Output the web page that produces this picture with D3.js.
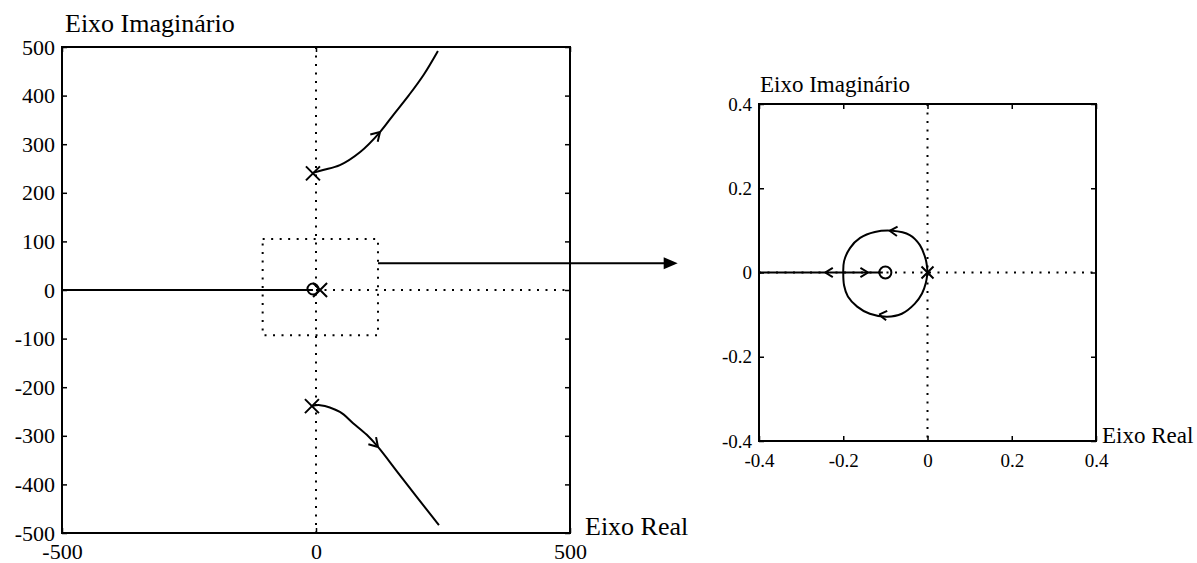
<!DOCTYPE html>
<html>
<head>
<meta charset="utf-8">
<script src="https://cdn.jsdelivr.net/npm/d3@7"></script>
<style>
  html, body { margin: 0; padding: 0; background: #fff; }
  svg { display: block; }
  text { font-family: "Liberation Serif", "Times New Roman", serif; fill: #000; }
</style>
</head>
<body>
<script>
// ---------- Data ----------
// Left plot: full root locus
const leftTicksY = [500, 400, 300, 200, 100, 0, -100, -200, -300, -400, -500];
const leftTicksX = [-500, 0, 500];
const upperBranchX = [-6, 14, 47, 87, 126, 152, 183, 212, 240];
const upperBranchY = [241, 247, 257, 284, 325, 360, 401, 443, 492];
const lowerBranchX = [-8, 8, 47, 73, 100, 122, 165, 242];
const lowerBranchY = [-239, -237, -251, -274, -298, -323, -381, -484];
const realAxisLeftX = [-500, -6];
const realAxisLeftY = [0, 0];
const polesLeftX = [-6, -8, 8];
const polesLeftY = [240, -239, 0];
const zerosLeftX = [-6];
const zerosLeftY = [2];
const zoomBoxX = [-105, 122, 122, -105, -105];
const zoomBoxY = [105, 105, -93, -93, 105];
const linkArrowX = [122, 712];
const linkArrowY = [55, 55];
// arrows: tail -> tip (data)
const leftArrowsTail = [[87, 284], [100, -298]];
const leftArrowsTip = [[126, 325], [122, -323]];

// Right plot: zoom near the origin
const rightTicks = [0.4, 0.2, 0, -0.2, -0.4];
const rightTickLabels = ["0.4", "0.2", "0", "-0.2", "-0.4"];
const rightTicksX = [-0.4, -0.2, 0, 0.2, 0.4];
const rightTickLabelsX = ["-0.4", "-0.2", "0", "0.2", "0.4"];
const loopUpperX = [0, -0.004, -0.018, -0.042, -0.084, -0.125, -0.160, -0.184, -0.198, -0.2];
const loopUpperY = [0, 0.030, 0.065, 0.089, 0.099, 0.096, 0.082, 0.058, 0.027, 0];
const loopLowerX = [0, -0.004, -0.013, -0.030, -0.061, -0.096, -0.137, -0.167, -0.189, -0.198, -0.2];
const loopLowerY = [0, -0.025, -0.050, -0.074, -0.098, -0.105, -0.098, -0.081, -0.057, -0.031, 0];
const realAxisRightX = [-0.4, -0.106];
const realAxisRightY = [0, 0];
const polesRightX = [0];
const polesRightY = [0];
const zerosRightX = [-0.1];
const zerosRightY = [0];
const rightArrowsTail = [[-0.2, 0], [-0.2, 0], [-0.06, 0.097], [-0.08, -0.104]];
const rightArrowsTip = [[-0.243, 0], [-0.141, 0], [-0.090, 0.099], [-0.115, -0.100]];

// ---------- Drawing ----------
const W = 1197, H = 563;
const svg = d3.select("body").append("svg").attr("width", W).attr("height", H);

function drawPanel(opt) {
  const x = d3.scaleLinear().domain(opt.xDomain).range([opt.left, opt.right]);
  const y = d3.scaleLinear().domain(opt.yDomain).range([opt.bottom, opt.top]);
  const g = svg.append("g");
  const fs = opt.tickFont;

  // dotted axes through origin
  g.append("line")
    .attr("x1", x(0)).attr("x2", x(0)).attr("y1", y(opt.yDomain[1])).attr("y2", y(opt.yDomain[0]))
    .attr("stroke", "#000").attr("stroke-width", 2).attr("stroke-dasharray", "2,6.5");
  g.append("line")
    .attr("x1", x(opt.hDotFrom)).attr("x2", x(opt.xDomain[1])).attr("y1", y(0)).attr("y2", y(0))
    .attr("stroke", "#000").attr("stroke-width", 2).attr("stroke-dasharray", "2,6.5");

  // axes
  const ax = (axis, tr, showLabels) => {
    const a = g.append("g").attr("transform", tr).call(axis);
    a.select(".domain").remove();
    a.selectAll("line").attr("stroke", "#000").attr("stroke-width", 1.5);
    a.selectAll("text").style("font-size", fs + "px").style("font-family", '"Liberation Serif", serif');
    if (!showLabels) a.selectAll("text").remove();
    return a;
  };
  ax(d3.axisLeft(y).tickValues(opt.yTicks).tickFormat((d, i) => opt.yLabels[i]).tickSize(-5).tickPadding(7),
     `translate(${opt.left},0)`, true);
  ax(d3.axisRight(y).tickValues(opt.yTicks).tickSize(-5), `translate(${opt.right},0)`, false);
  ax(d3.axisBottom(x).tickValues(opt.xTicks).tickFormat((d, i) => opt.xLabels[i]).tickSize(-5).tickPadding(opt.xPad),
     `translate(0,${opt.bottom})`, true);
  ax(d3.axisTop(x).tickValues(opt.xTicks).tickSize(-5), `translate(0,${opt.top})`, false);

  // frame
  g.append("rect")
    .attr("x", opt.left).attr("y", opt.top)
    .attr("width", opt.right - opt.left).attr("height", opt.bottom - opt.top)
    .attr("fill", "none").attr("stroke", "#000").attr("stroke-width", 2);

  // axis titles
  g.append("text").attr("x", opt.left + opt.yTitleDx).attr("y", opt.top - opt.yTitleDy)
    .style("font-size", opt.titleFont + "px").text("Eixo Imaginário");
  g.append("text").attr("x", opt.right + opt.xTitleDx).attr("y", opt.bottom + 2)
    .style("font-size", opt.titleFont + "px").text("Eixo Real");

  return { x, y, g };
}

const L = drawPanel({
  xDomain: [-500, 500], yDomain: [-500, 500],
  left: 62, right: 570, top: 47, bottom: 533,
  yTicks: leftTicksY, yLabels: leftTicksY.map(String),
  xTicks: leftTicksX, xLabels: leftTicksX.map(String),
  tickFont: 22, titleFont: 26, yTitleDx: 3, yTitleDy: 15, xTitleDx: 15, xPad: 10,
  hDotFrom: 0
});
const R = drawPanel({
  xDomain: [-0.4, 0.4], yDomain: [-0.4, 0.4],
  left: 759, right: 1096, top: 104, bottom: 441,
  yTicks: rightTicks, yLabels: rightTickLabels,
  xTicks: rightTicksX, xLabels: rightTickLabelsX,
  tickFont: 19, titleFont: 23, yTitleDx: 1, yTitleDy: 12, xTitleDx: 6, xPad: 13,
  hDotFrom: -0.4
});

function pathXY(P, xs, ys, curve) {
  const pts = xs.map((v, i) => [v, ys[i]]);
  P.g.append("path")
    .attr("d", d3.line().x(d => P.x(d[0])).y(d => P.y(d[1])).curve(curve || d3.curveLinear)(pts))
    .attr("fill", "none").attr("stroke", "#000").attr("stroke-width", 2);
}
function chevrons(P, tails, tips, len) {
  tips.forEach((t, i) => {
    const tx = P.x(t[0]), ty = P.y(t[1]);
    const sx = P.x(tails[i][0]), sy = P.y(tails[i][1]);
    const a = Math.atan2(ty - sy, tx - sx);
    const d = [a + Math.PI - 0.55, a + Math.PI + 0.55]
      .map(b => `M${tx},${ty}L${tx + len * Math.cos(b)},${ty + len * Math.sin(b)}`).join("");
    P.g.append("path").attr("d", d).attr("fill", "none").attr("stroke", "#000").attr("stroke-width", 2);
  });
}
function crosses(P, xs, ys, h) {
  xs.forEach((v, i) => {
    const cx = P.x(v), cy = P.y(ys[i]);
    P.g.append("path")
      .attr("d", `M${cx - h},${cy - h}L${cx + h},${cy + h}M${cx - h},${cy + h}L${cx + h},${cy - h}`)
      .attr("stroke", "#000").attr("stroke-width", 2);
  });
}
function circles(P, xs, ys, r) {
  xs.forEach((v, i) => {
    P.g.append("circle").attr("cx", P.x(v)).attr("cy", P.y(ys[i])).attr("r", r)
      .attr("fill", "none").attr("stroke", "#000").attr("stroke-width", 2);
  });
}

// left panel marks
pathXY(L, realAxisLeftX, realAxisLeftY);
pathXY(L, upperBranchX, upperBranchY, d3.curveCatmullRom);
pathXY(L, lowerBranchX, lowerBranchY, d3.curveCatmullRom);
chevrons(L, leftArrowsTail, leftArrowsTip, 10);
crosses(L, polesLeftX, polesLeftY, 7);
circles(L, zerosLeftX, zerosLeftY, 5.5);
L.g.append("path")
  .attr("d", d3.line().x((d, i) => L.x(d)).y((d, i) => L.y(zoomBoxY[i]))(zoomBoxX))
  .attr("fill", "none").attr("stroke", "#000").attr("stroke-width", 2).attr("stroke-dasharray", "2,6.5");

// connecting arrow
{
  const x1 = L.x(linkArrowX[0]), x2 = L.x(linkArrowX[1]), yy = L.y(linkArrowY[0]);
  L.g.append("line").attr("x1", x1).attr("x2", x2 - 12).attr("y1", yy).attr("y2", yy)
    .attr("stroke", "#000").attr("stroke-width", 2);
  L.g.append("path").attr("d", `M${x2},${yy}L${x2 - 14},${yy - 6}L${x2 - 14},${yy + 6}Z`).attr("fill", "#000");
}

// right panel marks
pathXY(R, realAxisRightX, realAxisRightY);
pathXY(R, loopUpperX, loopUpperY, d3.curveCatmullRom);
pathXY(R, loopLowerX, loopLowerY, d3.curveCatmullRom);
chevrons(R, rightArrowsTail, rightArrowsTip, 9);
crosses(R, polesRightX, polesRightY, 6);
circles(R, zerosRightX, zerosRightY, 6);
</script>
</body>
</html>
